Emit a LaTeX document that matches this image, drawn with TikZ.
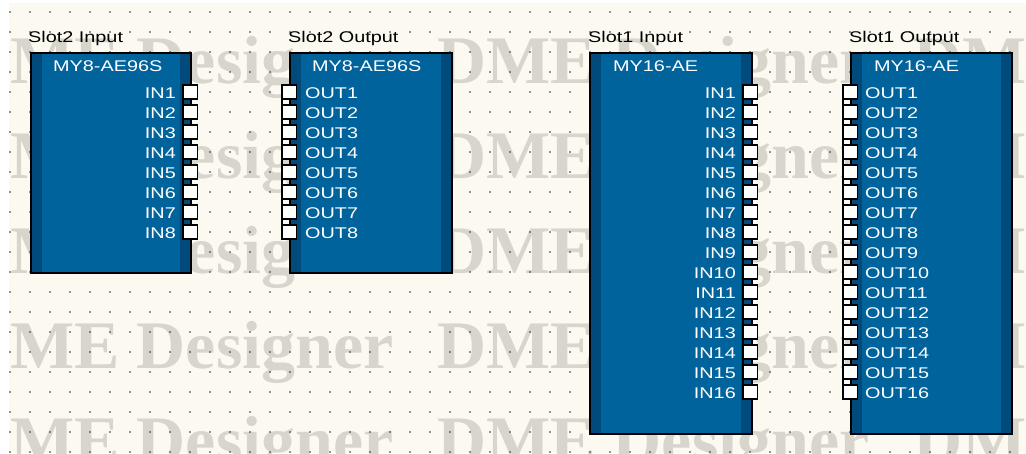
\documentclass[tikz,border=0pt]{standalone}
\usepackage{fontspec}
\setmainfont{Liberation Sans}
\newfontfamily\dmefont[FakeStretch=1.28]{Liberation Sans}
\newfontfamily\markfont{Liberation Serif}
\definecolor{paper}{RGB}{252,250,240}
\definecolor{wmgray}{RGB}{216,213,204}
\definecolor{dotc}{RGB}{40,40,40}
\definecolor{dmeblue}{RGB}{0,99,156}
\definecolor{dmedark}{RGB}{0,74,124}
\begin{document}
\begin{tikzpicture}[x=1pt, y=-1pt,
  blk/.style={draw=black, line width=1.5pt, fill=dmeblue, inner sep=0pt, anchor=north west,
    path picture={\fill[dmedark] (path picture bounding box.north west) rectangle ([xshift=11pt]path picture bounding box.south west);
      \fill[dmedark] ([xshift=-11pt]path picture bounding box.north east) rectangle (path picture bounding box.south east);}},
  title/.style={font=\dmefont\fontsize{15.5}{15.5}\selectfont, text=black, inner sep=0pt, anchor=base west},
  head/.style={font=\dmefont\fontsize{15.5}{15.5}\selectfont, text=white, inner sep=0pt, anchor=base west},
  plabel/.style={font=\dmefont\fontsize{15.5}{15.5}\selectfont, text=white, inner sep=0pt},
  port/.style={draw=black, line width=1.2pt, fill=white, minimum width=14pt, minimum height=14pt, inner sep=0pt},
  wmark/.style={font=\markfont\bfseries\fontsize{68}{68}\selectfont, text=wmgray, inner sep=0pt, anchor=base west}]
\useasboundingbox (0,0) rectangle (1026,453);
\fill[white] (0,0) rectangle (1026,453);
\fill[paper] (9,3) rectangle (1026,453);
% watermark and grid
\begin{scope}
\clip (9,3) rectangle (1026,453);
\foreach \r in {0,...,4}
  \foreach \c in {0,1,2}
    \node[wmark] (wm-\r-\c) at ({-39+476*\c},{83+95*\r}) {DME Designer};
\foreach \i in {0,...,50}
  \foreach \j in {0,...,22}
    \fill[dotc] ({10+20*\i},{12+20*\j}) circle (0.8pt);
\end{scope}
% Slot2 input
\node[title] (s2in-t) at (28,42) {Slot2 Input};
\node[blk, minimum width=160pt, minimum height=220pt] (s2in) at (30,52) {};
\node[head] (s2in-h) at (53,71) {MY8-AE96S};
\foreach \i in {1,...,8} {
  \node[port] (s2in-p\i) at (190.5,{92+20*(\i-1)}) {};
  \node[plabel, anchor=base east] (s2in-l\i) at (176,{98+20*(\i-1)}) {IN\i};
}
\draw[line width=1.2pt] (s2in-p1.north west) -- (s2in-p8.south west);
% Slot2 output
\node[title] (s2out-t) at (288,42) {Slot2 Output};
\node[blk, minimum width=162pt, minimum height=220pt] (s2out) at (289,52) {};
\node[head] (s2out-h) at (312,71) {MY8-AE96S};
\foreach \i in {1,...,8} {
  \node[port] (s2out-p\i) at (289.5,{92+20*(\i-1)}) {};
  \node[plabel, anchor=base west] (s2out-l\i) at (305,{98+20*(\i-1)}) {OUT\i};
}
\draw[line width=1.2pt] (s2out-p1.north west) -- (s2out-p8.south west);
% Slot1 input
\node[title] (s1in-t) at (588,42) {Slot1 Input};
\node[blk, minimum width=162pt, minimum height=381pt] (s1in) at (589,52) {};
\node[head] (s1in-h) at (613,71) {MY16-AE};
\foreach \i in {1,...,16} {
  \node[port] (s1in-p\i) at (750.5,{92+20*(\i-1)}) {};
  \node[plabel, anchor=base east] (s1in-l\i) at (736,{98+20*(\i-1)}) {IN\i};
}
\draw[line width=1.2pt] (s1in-p1.north west) -- (s1in-p16.south west);
% Slot1 output
\node[title] (s1out-t) at (849,42) {Slot1 Output};
\node[blk, minimum width=161pt, minimum height=381pt] (s1out) at (850,52) {};
\node[head] (s1out-h) at (874,71) {MY16-AE};
\foreach \i in {1,...,16} {
  \node[port] (s1out-p\i) at (850.5,{92+20*(\i-1)}) {};
  \node[plabel, anchor=base west] (s1out-l\i) at (865,{98+20*(\i-1)}) {OUT\i};
}
\draw[line width=1.2pt] (s1out-p1.north west) -- (s1out-p16.south west);
\end{tikzpicture}
\end{document}
